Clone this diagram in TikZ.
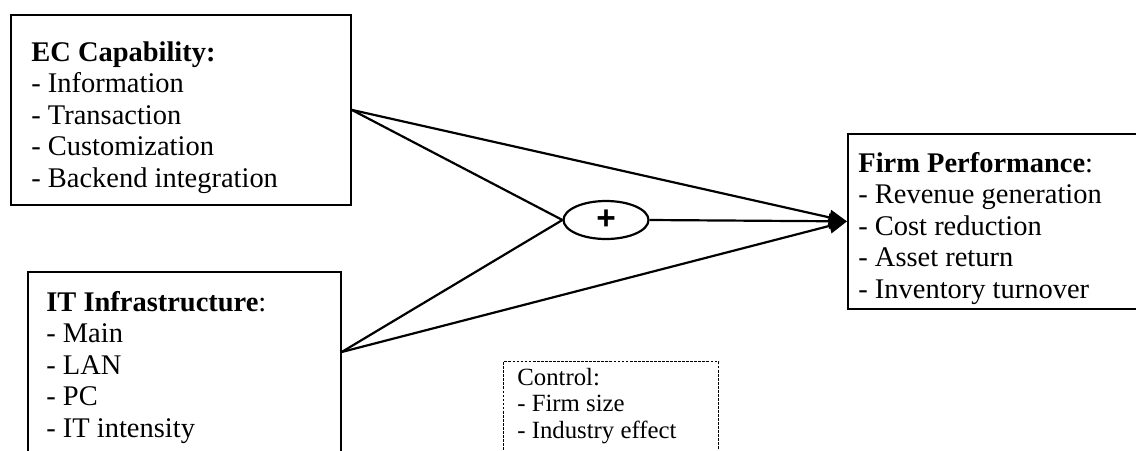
\documentclass[tikz,border=0pt]{standalone}
\usepackage{fontspec}
\setmainfont{Liberation Serif}
\newfontfamily\plusfont{Liberation Sans}
\usetikzlibrary{arrows.meta,positioning,shapes.geometric,calc}

\begin{document}
\begin{tikzpicture}[
        x=0.02cm, y=-0.02cm,
        box/.style={rectangle, draw, line width=1pt, inner sep=0pt, anchor=north west},
        ctrlbox/.style={box, line width=0.8pt, dash pattern=on 1.6pt off 0.7pt},
        txt/.style={inner sep=0pt, anchor=base west, align=left, font=\fontsize{16.2}{17.9}\selectfont},
        smalltxt/.style={txt, font=\fontsize{14.1}{15}\selectfont},
        link/.style={line width=1.25pt},
        arrow/.style={link, -{Triangle[length=3.6mm, width=3mm]}}
    ]
        \useasboundingbox (0,0) rectangle (1136,450);
        \clip (0,0) rectangle (1136,450);

        % Boxes
        \node[box, minimum width=6.8cm, minimum height=3.8cm] (ec) at (10,14) {};
        \node[box, minimum width=6.26cm, minimum height=5cm] (it) at (27,271) {};
        \node[box, minimum width=6.2cm, minimum height=3.5cm] (perf) at (847,133) {};
        \node[ctrlbox, minimum width=4.3cm, minimum height=4cm] (ctrl) at (503,361) {};
        \node[ellipse, draw, line width=1.25pt, minimum width=1.7cm, minimum height=0.76cm, inner sep=0pt,
              font=\plusfont\fontsize{19}{19}\selectfont\bfseries] (sum) at (606,220) {+};

        % Texts (anchored at the baseline of their last line)
        \node[txt] (ectext) at (31,187) {\textbf{EC Capability:}\\- Information\\- Transaction\\- Customization\\- Backend integration};
        \node[txt] (ittext) at (46,437) {\textbf{IT Infrastructure}:\\- Main\\- LAN\\- PC\\- IT intensity};
        \node[txt] (perftext) at (858,298) {\textbf{Firm Performance}:\\- Revenue generation\\- Cost reduction\\- Asset return\\- Inventory turnover};
        \node[smalltxt] (ctrltext) at (517,438) {Control:\\- Firm size\\- Industry effect};

        % Arrows
        \coordinate (itout) at ($(it.north east)+(0,81)$);
        \draw[link] (ec.east) -- (sum.west);
        \draw[link] (itout) -- (sum.west);
        \draw[arrow] (ec.east) -- (perf.west);
        \draw[arrow] (itout) -- (perf.west);
        \draw[arrow] (sum.east) -- (perf.west);
    \end{tikzpicture}
\end{document}
